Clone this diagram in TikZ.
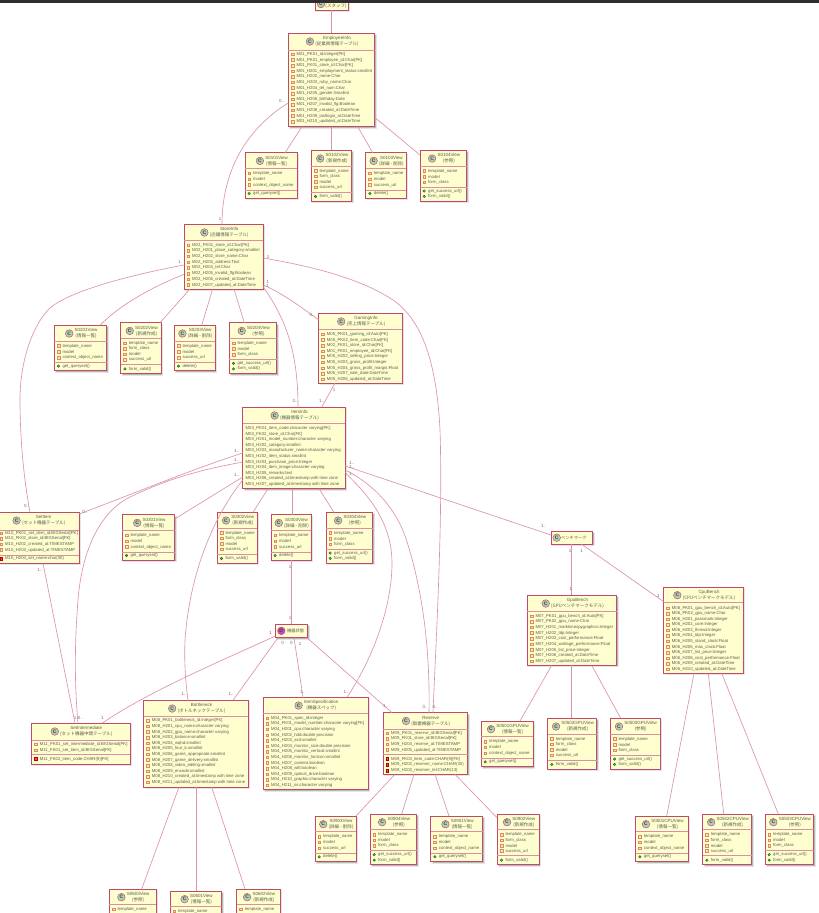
\documentclass[tikz,border=0pt]{standalone}
\usepackage{fontspec}
\setmainfont{Liberation Sans}
\newfontfamily\cjk{Noto Sans CJK JP}
\definecolor{boxfill}{HTML}{FEFECE}
\definecolor{boxline}{HTML}{C4486C}
\definecolor{connline}{HTML}{DE92AA}
\definecolor{divcol}{HTML}{DC8EA4}
\definecolor{txt}{HTML}{5C5C58}
\definecolor{iconc}{HTML}{ADD1B2}
\definecolor{icond}{HTML}{C845C8}
\definecolor{fldline}{HTML}{DC8A60}
\definecolor{fldfill}{HTML}{FBE6C0}
\newcounter{lbn}
\catcode`\_=12
\tikzset{
  classbox/.style={draw=boxline,fill=boxfill,line width=0.85pt,inner sep=0pt,outer sep=0pt},
  shadowbox/.style={fill=black!28,draw=black!10,line width=0.6pt},
  divline/.style={draw=divcol,line width=0.6pt},
  conn/.style={draw=connline,line width=0.65pt},
  rowtext/.style={font=\fontsize{4.25}{5}\selectfont,text=txt,inner sep=0pt,anchor=west},
  titletext/.style={font=\fontsize{4.5}{6}\selectfont,text=txt,inner sep=0pt,align=center},
  lab/.style={font=\fontsize{4.5}{5}\selectfont,text=black!55,inner sep=0pt},
  ic/.style={circle,draw=boxline,line width=0.45pt,minimum size=7.6pt,inner sep=0pt,font=\fontsize{5}{5}\selectfont\bfseries,text=black!75},
  fldicon/.style={draw=fldline,fill=fldfill,line width=0.5pt,minimum size=2.5pt,inner sep=0pt},
  prvicon/.style={draw=red!70!black,fill=red!70,line width=0.4pt,minimum size=2.8pt,inner sep=0pt},
  mthicon/.style={circle,draw=green!40!black,fill=green!45!black!60,line width=0.3pt,minimum size=2.6pt,inner sep=0pt},
}
% box frame with header: name x0 y0 x1 y1 hdr title sub
\newcommand\cbox[8]{%
  \fill[shadowbox] ({#2+1.4},{#3+1.4}) rectangle ({#4+1.4},{#5+1.4});
  \pgfmathsetmacro\bw{#4-#2}\pgfmathsetmacro\bh{#5-#3}%
  \node[classbox,minimum width=\bw pt,minimum height=\bh pt] (#1) at ({(#2+#4)/2},{(#3+#5)/2}) {};
  \draw[divline] (#1.west |- 0,#6) -- (#1.east |- 0,#6);
  \node[titletext] (#1-t) at ({(#2+#4)/2+5.5},{#3+8.2}) {#7\\{\cjk #8}};
  \node[ic,fill=iconc,anchor=east] (#1-i) at ([xshift=-1.2pt]#1-t.west) {C};
}
% rows: name kind x0 ystart step list
\newcommand\rows[6]{%
  \foreach \rowtxt [count=\i] in {#6} {
    \pgfmathsetmacro\yy{#4+(\i-1)*#5}
    \node[#2icon] (#1-#2-i\i) at ({#3+4.2},\yy) {};
    \node[rowtext] (#1-#2-\i) at ({#3+8},\yy) {\rowtxt};
  }
}
\newcommand\plainrows[5]{%
  \foreach \rowtxt [count=\i] in {#5} {
    \pgfmathsetmacro\yy{#3+(\i-1)*#4}
    \node[rowtext] (#1-r\i) at ({#2+2.8},\yy) {\rowtxt};
  }
}
\newcommand\vdiv[2]{\draw[divline] (#1.west |- 0,#2) -- (#1.east |- 0,#2);}
% views: name x0 x1 y0
\newcommand\VL[4]{%
  \cbox{#1}{#2}{#4}{#3}{#4+45.6}{#4+15.7}{#1}{(情報一覧)}
  \vdiv{#1}{#4+37.4}
  \rows{#1}{fld}{#2}{#4+20.6}{5.8}{template_name,model,context_object_name}
  \rows{#1}{mth}{#2}{#4+40.8}{5.5}{get_queryset()}
}
\newcommand\VC[4]{%
  \cbox{#1}{#2}{#4}{#3}{#4+50.7}{#4+15.7}{#1}{(新規作成)}
  \vdiv{#1}{#4+41.7}
  \rows{#1}{fld}{#2}{#4+20.6}{5.45}{template_name,form_class,model,success_url}
  \rows{#1}{mth}{#2}{#4+46.2}{5.5}{form_valid()}
}
\newcommand\VD[4]{%
  \cbox{#1}{#2}{#4}{#3}{#4+45.6}{#4+15.7}{#1}{(詳細 - 削除)}
  \vdiv{#1}{#4+37.4}
  \rows{#1}{fld}{#2}{#4+20.6}{5.8}{template_name,model,success_url}
  \rows{#1}{mth}{#2}{#4+40.8}{5.5}{delete()}
}
\newcommand\VR[4]{%
  \cbox{#1}{#2}{#4}{#3}{#4+50.7}{#4+15.7}{#1}{(参照)}
  \vdiv{#1}{#4+36.5}
  \rows{#1}{fld}{#2}{#4+20.6}{5.6}{template_name,model,form_class}
  \rows{#1}{mth}{#2}{#4+40.7}{5.4}{get_success_url(),form_valid()}
}
\newcommand\lbl[3]{\stepcounter{lbn}\node[lab] (lab\thelbn) at (#1,#2) {#3};}
\begin{document}
\begin{tikzpicture}[x=1pt,y=-1pt]
\useasboundingbox (0,0) rectangle (819,913);
\clip (0,0) rectangle (819,913);
\fill[white] (0,0) rectangle (819,913);

%%% classes
\fill[shadowbox] (316.7,-10) rectangle (349.7,11.4);
\node[classbox,minimum width=33pt,minimum height=30pt] (TopBox) at (331.8,-5) {};
\node[ic,fill=iconc] (TopBox-i) at (321,4) {C};
\node[titletext] (TopBox-t) at (336,6.2) {\cjk (スタッフ)};

\cbox{EmployeeInfo}{288.3}{33.3}{374.7}{126.7}{50}{EmployeeInfo}{(従業員情報テーブル)}
\rows{EmployeeInfo}{fld}{288.3}{54.3}{5.6}{M01_PK01_id:integer[PK],M01_PK01_employee_id:Char[PK],M01_FK01_store_id:Char[FK],M01_H201_employment_status:smallint,M01_H202_name:Char,M01_H203_ruby_name:Char,M01_H204_tel_num:Char,M01_H205_gender:Smallint,M01_H206_birthday:Date,M01_H207_invalid_flg:Boolean,M01_H208_created_at:DateTime,M01_H209_lastlogin_at:DateTime,M01_H210_updated_at:DateTime}

\VL{S0101View}{245}{297.3}{152.7}
\VC{S0102View}{311.3}{351.7}{150.3}
\VD{S0103View}{365.7}{406}{152.7}
\VR{S0104View}{420}{466.7}{150.3}

\cbox{StoreInfo}{184}{224.3}{263.3}{289}{240}{StoreInfo}{(店舗情報テーブル)}
\rows{StoreInfo}{fld}{184}{245}{5.7}{M02_PK01_store_id:Char[PK],M02_H201_place_category:smallint,M02_H202_store_name:Char,M02_H203_address:Text,M02_H204_tel:Char,M02_H205_invalid_flg:Boolean,M02_H206_created_at:DateTime,M02_H207_updated_at:DateTime}

\VL{S0201View}{54.3}{106.7}{325.3}
\VC{S0202View}{120.7}{161.3}{322.7}
\VD{S0203View}{174.3}{215}{325.3}
\VR{S0204View}{229.3}{276.7}{322.7}

\cbox{GamingInfo}{318.7}{313.3}{402.3}{383}{329.3}{GamingInfo}{(売上情報テーブル)}
\rows{GamingInfo}{fld}{318.7}{334.3}{5.63}{M05_PK01_gaming_id:Auto[PK],M05_PK02_item_code:Char[FK],M02_FK01_store_id:Char[FK],M01_FK01_employee_id:Char[FK],M05_H202_selling_price:Integer,M05_H203_gross_profit:Integer,M05_H204_gross_profit_margin:Float,M05_H207_sale_date:DateTime,M05_H208_updated_at:DateTime}

\cbox{ItemInfo}{242.7}{407.3}{345.3}{488.7}{423.3}{ItemInfo}{(機器情報テーブル)}
\plainrows{ItemInfo}{242.7}{428.3}{5.6}{M03_PK01_item_code:character varying[PK],M03_FK02_store_id:Char[FK],M03_H201_model_number:character varying,M03_H202_category:smallint,M03_H203_manufacturer_name:character varying,M03_H202_item_status:smallint,M03_H203_purchase_price:Integer,M03_H204_item_image:character varying,M03_H205_remarks:text,M03_H206_created_at:timestamp with time zone,M03_H207_updated_at:timestamp with time zone}

\cbox{SetItem}{-3}{512.3}{79.3}{563.3}{530}{SetItem}{(セット機器テーブル)}
\vdiv{SetItem}{555}
\rows{SetItem}{fld}{-3}{533.3}{5.56}{M10_PK01_set_item_id:BIGSerial[PK],M10_FK02_store_id:BIGSerial[FK],M10_H202_created_at:TIMESTAMP,M10_H203_updated_at:TIMESTAMP}
\rows{SetItem}{prv}{-3}{558.6}{5.6}{M10_H204_set_name:char(30)}

\VL{S0301View}{122.3}{174.7}{514.7}
\VC{S0302View}{217.3}{257.3}{512.3}
\VD{S0303View}{271}{311}{514.7}
\VR{S0304View}{326}{372.7}{512.3}

\fill[shadowbox] (276.7,625.4) rectangle (309.1,639.1);
\node[classbox,minimum width=32.4pt,minimum height=13.7pt] (KikiJotai) at (291.5,630.85) {};
\node[ic,fill=icond] (KikiJotai-i) at (281.3,630.85) {D};
\node[rowtext] (KikiJotai-t) at (287,630.85) {\cjk 機器状態};

\fill[shadowbox] (552.4,532.4) rectangle (594.1,545.7);
\node[classbox,minimum width=41.7pt,minimum height=13.3pt] (Benchmark) at (571.85,537.65) {};
\node[ic,fill=iconc] (Benchmark-i) at (556.7,537.65) {C};
\node[rowtext] (Benchmark-t) at (561,537.65) {\cjk ベンチマーク};

\cbox{GpuBench}{527.3}{595.3}{616.7}{665.3}{611.3}{GpuBench}{(GPUベンチマークモデル)}
\rows{GpuBench}{fld}{527.3}{616}{5.66}{M07_PK01_gpu_bench_id:Auto[PK],M07_PK02_gpu_name:Char,M07_H201_marktimespygraphics:Integer,M07_H202_tdp:Integer,M07_H203_cost_performance:Float,M07_H204_wattage_performance:Float,M07_H205_list_price:Integer,M07_H206_created_at:DateTime,M07_H207_updated_at:DateTime}

\cbox{CpuBench}{663.7}{587}{743.3}{673.3}{602.7}{CpuBench}{(CPUベンチマークモデル)}
\rows{CpuBench}{fld}{663.7}{608}{5.57}{M06_PK01_gpu_bench_id:Auto[PK],M06_PK02_gpu_name:Char,M06_H201_passmark:Integer,M06_H202_core:Integer,M06_H203_thread:Integer,M06_H204_tdp:Integer,M06_H205_stand_clock:Float,M06_H206_max_clock:Float,M06_H207_list_price:Integer,M06_H208_cost_performance:Float,M06_H209_created_at:DateTime,M06_H210_updated_at:DateTime}

\cbox{SetIntermediate}{31.7}{723.3}{130}{764}{740}{SetIntermediate}{(セット機器中間テーブル)}
\vdiv{SetIntermediate}{754.3}
\rows{SetIntermediate}{fld}{31.7}{744.3}{6}{M11_PK01_set_intermediate_id:BIGSerial[PK],M11_FK01_set_item_id:BIGSerial[FK]}
\rows{SetIntermediate}{prv}{31.7}{759}{5.6}{M11_FK02_item_code:CHAR(9)[FK]}

\cbox{Bottleneck}{143.7}{700.3}{248.3}{787}{716.3}{Bottleneck}{(ボトルネックテーブル)}
\rows{Bottleneck}{fld}{143.7}{720.7}{5.6}{M08_PK01_bottleneck_id:integer[PK],M08_H201_cpu_name:character varying,M08_H202_gpu_name:character varying,M08_H203_balance:smallint,M08_H204_wqhd:smallint,M08_H205_four_k:smallint,M08_H206_game_appropriate:smallint,M08_H207_game_delivery:smallint,M08_H208_video_editing:smallint,M08_H209_encode:smallint,M08_H210_created_at:timestamp with time zone,M08_H211_updated_at:timestamp with time zone}

\cbox{ItemSpecification}{263}{697.3}{368.3}{789.7}{713.3}{ItemSpecification}{(機器スペック)}
\rows{ItemSpecification}{fld}{263}{718.3}{5.58}{M04_PK01_spec_id:integer,M04_FK01_model_number:character varying[FK],M04_H201_cpu:character varying,M04_H202_hdd:double precision,M04_H203_ssd:smallint,M04_H204_monitor_size:double precision,M04_H205_monitor_vertical:smallint,M04_H206_monitor_horizon:smallint,M04_H207_camera:boolean,M04_H208_wifi:boolean,M04_H209_optical_drive:boolean,M04_H210_graphic:character varying,M04_H211_os:character varying}

\cbox{Reserve}{383}{712.7}{467.7}{774.3}{729}{Reserve}{(取置機器テーブル)}
\vdiv{Reserve}{754.3}
\rows{Reserve}{fld}{383}{733.3}{5.55}{M09_PK01_reserve_id:BIGSerial[PK],M09_FK01_store_id:BIGSerial[FK],M09_H204_reserve_at:TIMESTAMP,M09_H205_updated_at:TIMESTAMP}
\rows{Reserve}{prv}{383}{759}{5.67}{M09_FK03_item_code:CHAR(9)[FK],M09_H202_reserver_name:CHAR(30),M09_H203_reserver_tel:CHAR(13)}

\VL{S0501GPUView}{481}{533.3}{721}
\VC{S0502GPUView}{547.7}{596.7}{718.3}
\VR{S0503GPUView}{610.3}{660}{718.3}

\VD{S0903View}{315}{356}{816}
\VR{S0904View}{370}{416.7}{814}
\VL{S0901View}{430.7}{482.7}{816}
\VC{S0902View}{497.3}{539.3}{814}

\VL{S0501CPUView}{635.7}{688.3}{816}
\VC{S0502CPUView}{702.7}{751.7}{814}
\VR{S0503CPUView}{765}{813.7}{814}

\cbox{S0603View}{109.3}{889}{156}{940}{904.7}{S0603View}{(参照)}
\rows{S0603View}{fld}{109.3}{909.3}{5.6}{template_name}
\cbox{S0601View}{170}{891}{221.7}{940}{906.7}{S0601View}{(情報一覧)}
\rows{S0601View}{fld}{170}{911}{5.6}{template_name}
\cbox{S0602View}{236.7}{889}{280}{940}{904.7}{S0602View}{(新規作成)}
\rows{S0602View}{fld}{236.7}{909.3}{5.6}{template_name}

%%% connectors
\draw[conn] (331.3,0 |- TopBox.south) -- (331.3,0 |- EmployeeInfo.north);
\draw[conn] (302,0 |- EmployeeInfo.south) -- (285,0 |- S0101View.north);
\draw[conn] (331.3,0 |- EmployeeInfo.south) -- (331.3,0 |- S0102View.north);
\draw[conn] (357.7,0 |- EmployeeInfo.south) -- (372.7,0 |- S0103View.north);
\draw[conn] (EmployeeInfo.east |- 0,117.3) -- (S0104View.west |- 0,155);
\draw[conn] (EmployeeInfo.west |- 0,103) .. controls (252,125) and (222,165) .. (222,0 |- StoreInfo.north);

\draw[conn] (190,0 |- StoreInfo.south) -- (160,0 |- S0202View.north);
\draw[conn] (212.7,0 |- StoreInfo.south) -- (201.7,0 |- S0203View.north);
\draw[conn] (234,0 |- StoreInfo.south) -- (244.3,0 |- S0204View.north);
\draw[conn] (StoreInfo.west |- 0,274.3) .. controls (150,288) and (120,305) .. (100,0 |- S0201View.north);
\draw[conn] (StoreInfo.west |- 0,265) .. controls (130,275) and (65,292) .. (48,310) .. controls (33,326) and (20,360) .. (20,400) .. controls (20,440) and (24,480) .. (30,0 |- SetItem.north);
\draw[conn] (StoreInfo.east |- 0,285) .. controls (280,292) and (300,306) .. (GamingInfo.west |- 0,320);
\draw[conn] (StoreInfo.east |- 0,287) .. controls (285,318) and (298,350) .. (298,0 |- ItemInfo.north);
\draw[conn] (StoreInfo.east |- 0,258) .. controls (310,266) and (360,278) .. (393,300) .. controls (425,322) and (437,370) .. (440,430) .. controls (443,520) and (436,640) .. (433,0 |- Reserve.north);

\draw[conn] (335,0 |- GamingInfo.south) -- (321.7,0 |- ItemInfo.north);

\draw[conn] (ItemInfo.west |- 0,453) .. controls (190,470) and (130,495) .. (SetItem.east |- 0,514);
\draw[conn] (ItemInfo.west |- 0,462) .. controls (200,470) and (170,478) .. (130,497) .. controls (100,512) and (82,550) .. (78,600) .. controls (74,650) and (75,690) .. (78,0 |- SetIntermediate.north);
\draw[conn] (ItemInfo.west |- 0,477) -- (S0301View.east |- 0,519);
\draw[conn] (ItemInfo.west |- 0,480) .. controls (215,515) and (190,570) .. (185,640) .. controls (184,665) and (186,685) .. (188,0 |- Bottleneck.north);
\draw[conn] (268,0 |- ItemInfo.south) -- (253,0 |- S0302View.north);
\draw[conn] (292.7,0 |- ItemInfo.south) -- (292.7,0 |- S0303View.north);
\draw[conn] (319,0 |- ItemInfo.south) -- (334,0 |- S0304View.north);
\draw[conn] (ItemInfo.east |- 0,466) -- (Benchmark.west |- 0,535);
\draw[conn] (ItemInfo.east |- 0,472) .. controls (350,480) and (392,510) .. (392,563) .. controls (392,600) and (378,650) .. (347,0 |- ItemSpecification.north);
\draw[conn] (ItemInfo.east |- 0,470) .. controls (375,485) and (398,510) .. (408,545) .. controls (425,600) and (430,660) .. (429,0 |- Reserve.north);

\draw[conn] (43,0 |- SetItem.south) -- (75,0 |- SetIntermediate.north);
\draw[conn] (291.3,0 |- S0303View.south) -- (291.3,0 |- KikiJotai.north);

\draw[conn] (KikiJotai.west |- 0,636) .. controls (235,655) and (150,690) .. (102,0 |- SetIntermediate.north);
\draw[conn] (278,0 |- KikiJotai.south) -- (233,0 |- Bottleneck.north);
\draw[conn] (294,0 |- KikiJotai.south) -- (303,0 |- ItemSpecification.north);
\draw[conn] (307,0 |- KikiJotai.south) -- (392,0 |- Reserve.north);

\draw[conn] (179,0 |- Bottleneck.south) -- (141.7,0 |- S0603View.north);
\draw[conn] (196,0 |- Bottleneck.south) -- (196,0 |- S0601View.north);
\draw[conn] (211.7,0 |- Bottleneck.south) -- (245,0 |- S0602View.north);

\draw[conn] (395,0 |- Reserve.south) -- (356,0 |- S0903View.north);
\draw[conn] (414,0 |- Reserve.south) -- (401.7,0 |- S0904View.north);
\draw[conn] (435,0 |- Reserve.south) -- (449,0 |- S0901View.north);
\draw[conn] (455,0 |- Reserve.south) -- (S0902View.west |- 0,818);

\draw[conn] (571.7,0 |- Benchmark.south) -- (571.7,0 |- GpuBench.north);
\draw[conn] (581.7,0 |- Benchmark.south) -- (CpuBench.west |- 0,601.7);

\draw[conn] (551.7,0 |- GpuBench.south) -- (520,0 |- S0501GPUView.north);
\draw[conn] (571.7,0 |- GpuBench.south) -- (571.7,0 |- S0502GPUView.north);
\draw[conn] (591.7,0 |- GpuBench.south) -- (620.7,0 |- S0503GPUView.north);

\draw[conn] (694,0 |- CpuBench.south) -- (666.7,0 |- S0501CPUView.north);
\draw[conn] (708.3,0 |- CpuBench.south) -- (723.7,0 |- S0502CPUView.north);
\draw[conn] (721.7,0 |- CpuBench.south) -- (778.3,0 |- S0503CPUView.north);

%%% multiplicity labels
\lbl{281.7}{101}{0..}\lbl{220}{219}{1}\lbl{179.7}{262}{1}\lbl{268}{256.7}{1}
\lbl{267.7}{281.7}{1}\lbl{267.7}{285.7}{1}\lbl{312}{315}{0..}\lbl{334}{390}{1}
\lbl{295}{401}{0..}\lbl{321.7}{401}{1..}
\lbl{236.7}{450.7}{1..}\lbl{236.7}{460}{1..}\lbl{236.7}{475}{1..}
\lbl{351.7}{463.3}{1..}\lbl{351.7}{466.7}{1..}\lbl{351.7}{474}{1..}
\lbl{26.7}{506}{0..}\lbl{85}{512.3}{0..}\lbl{40}{570}{1..}
\lbl{290}{567.3}{1}\lbl{290}{617.7}{1}\lbl{270.7}{632.7}{1}
\lbl{282.7}{642.7}{0}\lbl{291.3}{642.7}{0}\lbl{300}{644}{1}
\lbl{543.3}{526}{1.}\lbl{570}{550.7}{1}\lbl{581.7}{550.7}{1}\lbl{570.7}{589}{1}\lbl{658.3}{596}{1}
\lbl{75.7}{718}{1.}\lbl{80.5}{718}{0..}\lbl{102.7}{718}{1}\lbl{184}{694}{1..}\lbl{231}{694}{1..}
\lbl{302}{692}{1.}\lbl{346}{692}{1..}\lbl{385.7}{706}{1..}\lbl{425}{707}{0..}\lbl{435}{707}{0..}

%%% window bar at the top
\fill[black!82] (0,0) rectangle (819,3);
\end{tikzpicture}
\end{document}
